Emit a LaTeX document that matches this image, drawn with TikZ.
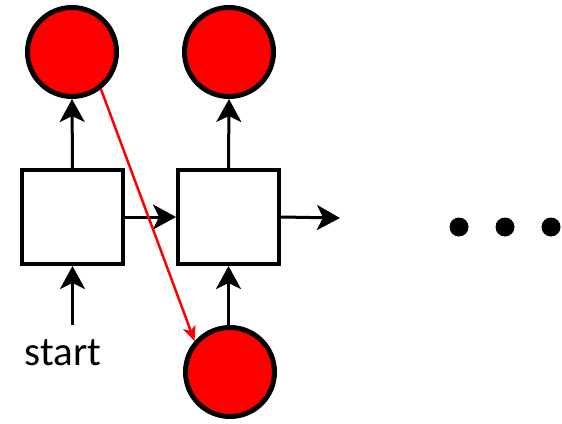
\documentclass[tikz,border=0pt]{standalone}
\usepackage{fontspec}
\setmainfont{Carlito}
\usetikzlibrary{arrows.meta}

\begin{document}
\begin{tikzpicture}[x=1pt, y=-1pt]

\tikzset{
    cell/.style={draw, line width=4pt, fill=white, minimum width=101pt, minimum height=94pt, inner sep=0pt},
    ball/.style={circle, draw, line width=5pt, fill=red, minimum size=89pt, inner sep=0pt},
    arr/.style={line width=3pt, -{Stealth[length=23pt, width=25pt, inset=6pt]}},
    redarr/.style={red, line width=2.5pt, -{Stealth[length=15pt, width=13pt, inset=4pt]}}
}
\useasboundingbox (0,0) rectangle (562,423);

\node[cell] (b1) at (72.5,217) {};
\node[cell] (b2) at (228.5,217) {};
\node[ball] (y1) at (72,52) {};
\node[ball] (y2) at (229,52) {};
\node[ball] (x2) at (230,372) {};
\node[anchor=base, inner sep=0pt, font=\fontsize{41}{48}\selectfont] (start) at (63,365) {start};
\coordinate (out) at (340,218);

\draw[arr] (b1.north) -- (y1.south);
\draw[arr] (b2.north) -- (y2.south);
\draw[arr] (b1.east) -- (b2.west);
\draw[arr] (b2.east) -- (out);
\draw[arr] ([yshift=14pt]start.north -| b1.south) -- (b1.south);
\draw[arr] (x2.north -| b2.south) -- (b2.south);
\draw[redarr] (y1.-52) -- (x2.139);

% dots
\foreach \i/\x in {1/459, 2/505, 3/551}
    \node[circle, fill=black, minimum size=19pt, inner sep=0pt] (d\i) at (\x,227) {};
\end{tikzpicture}
\end{document}
